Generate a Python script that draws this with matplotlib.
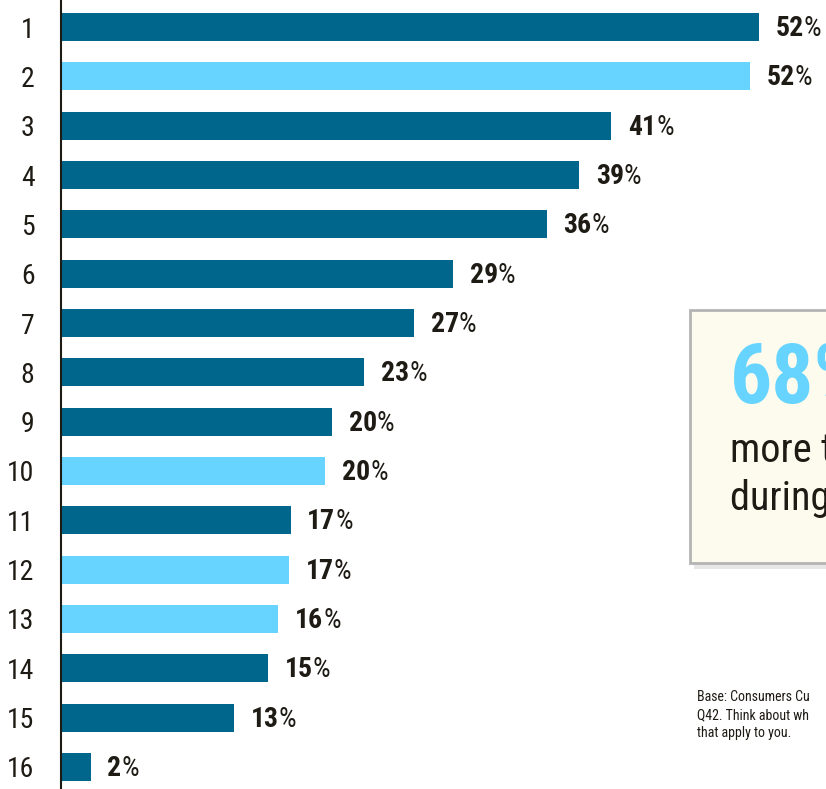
import matplotlib
matplotlib.use("Agg")
import matplotlib.pyplot as plt
from matplotlib import font_manager
from matplotlib.patches import Rectangle

# pick a narrow font if one is around
names = set(f.name for f in font_manager.fontManager.ttflist)
family = "DejaVu Sans"
for cand in ["Roboto Condensed", "Liberation Sans Narrow", "Open Sans Condensed", "Noto Sans"]:
    if cand in names:
        family = cand
        break
plt.rcParams["font.family"] = [family, "DejaVu Sans"]

categories = [str(i) for i in range(1, 17)]
values = [52, 51.3, 41, 38.6, 36.2, 29.2, 26.3, 22.6, 20.2, 19.7, 17.1, 17.0, 16.2, 15.4, 12.9, 2.2]
labels = ["52", "52", "41", "39", "36", "29", "27", "23", "20", "20", "17", "17", "16", "15", "13", "2"]
highlight = [False, True, False, False, False, False, False, False, False, True, False, True, True, False, False, False]

dark = "#00668c"
light = "#66d4ff"
ink = "#1e1a14"

fig = plt.figure(figsize=(8.26, 7.89), dpi=100)
ax = fig.add_axes([61 / 826, 0, 1 - 61 / 826, 1])

pos = list(range(len(categories)))
colors = [light if h else dark for h in highlight]
ax.barh(pos, values, height=0.57, color=colors)

ax.set_xlim(0, 52 * 765 / 698)
ax.set_ylim(15 + 22 / 49.33, -27 / 49.33)
ax.set_yticks(pos)
ax.set_yticklabels(categories, fontsize=20, color=ink)
ax.tick_params(axis="y", length=0, pad=19)
ax.set_xticks([])
for s in ["top", "right", "bottom"]:
    ax.spines[s].set_visible(False)
ax.spines["left"].set_color(ink)
ax.spines["left"].set_linewidth(1.5)

fig.canvas.draw()
renderer = fig.canvas.get_renderer()
for p, v, lab in zip(pos, values, labels):
    t = ax.annotate(lab, (v, p), xytext=(12, -1), textcoords="offset points",
                    va="center", ha="left", fontsize=20, fontweight="bold", color=ink)
    bb = t.get_window_extent(renderer)
    ax.annotate("%", (v, p), xytext=(12 + bb.width * 72 / fig.dpi, -1), textcoords="offset points",
                va="center", ha="left", fontsize=20, color=ink)

# callout box
bx, by, bh = 690 / 826, 1 - 563 / 789, 253 / 789
fig.patches.append(Rectangle((bx + 0.005, by - 0.008), 0.3, bh, transform=fig.transFigure,
                             facecolor="#d0d0d0", edgecolor="none", alpha=0.5, zorder=3))
fig.patches.append(Rectangle((bx, by), 0.3, bh, transform=fig.transFigure,
                             facecolor="#fdfbee", edgecolor="#b4b4b4", linewidth=2, zorder=4))
fig.text(730 / 826, 1 - 380 / 789, "68%", fontsize=60, fontweight="bold", color=light,
         va="center", ha="left", zorder=5)
fig.text(730 / 826, 1 - 450 / 789, "more than", fontsize=29, color=ink, va="center", ha="left", zorder=5)
fig.text(730 / 826, 1 - 499 / 789, "during the", fontsize=29, color=ink, va="center", ha="left", zorder=5)

fig.text(697 / 826, 1 - 715 / 789, "Base: Consumers Cu\nQ42. Think about wh\nthat apply to you.",
         fontsize=10, color=ink, va="center", ha="left", linespacing=1.35)

fig.savefig("out.png", dpi=100)
